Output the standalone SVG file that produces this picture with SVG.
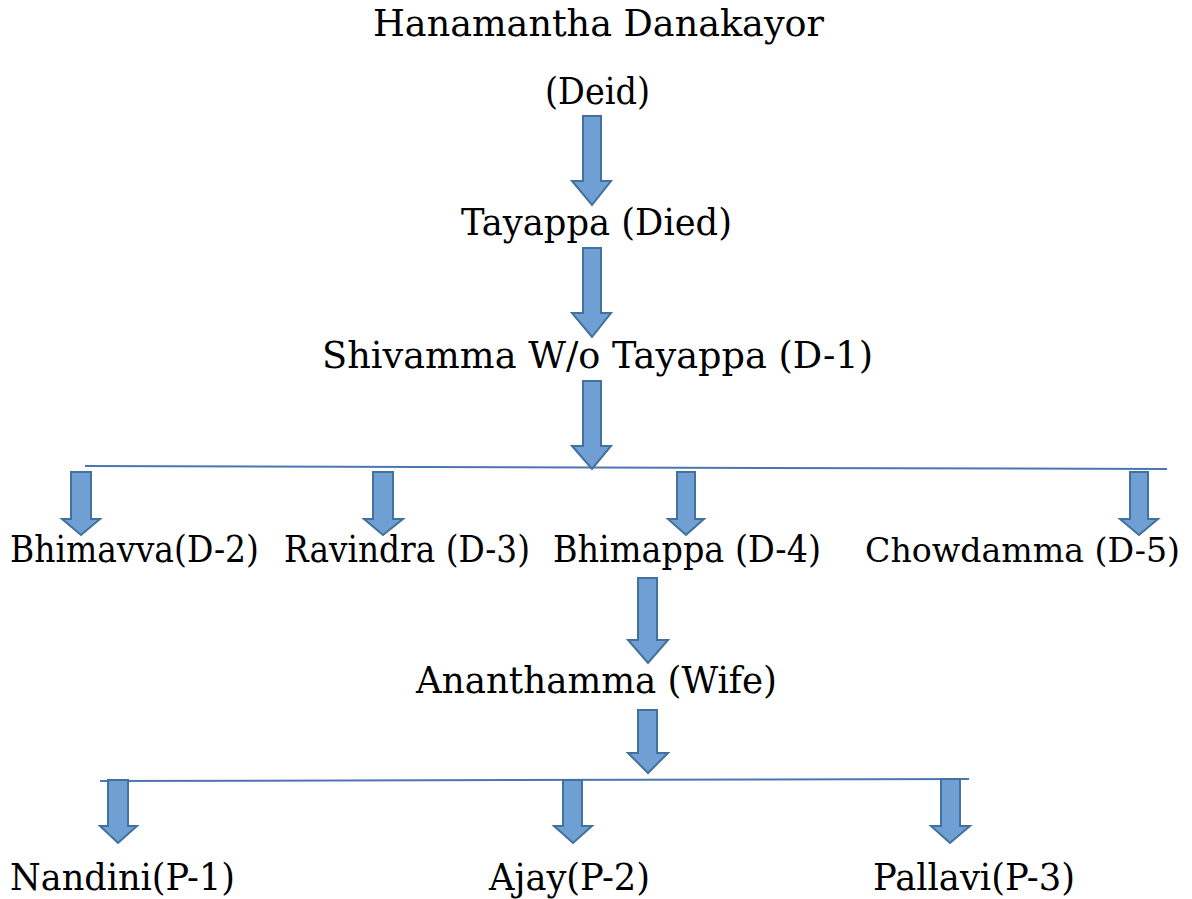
<svg xmlns="http://www.w3.org/2000/svg" width="1192" height="899" viewBox="0 0 1192 899">
<style>
text{font-family:"DejaVu Serif","Liberation Serif",serif;font-size:37px;fill:#000}
.arr{fill:#6f9fd3;stroke:#41719c;stroke-width:2;stroke-linejoin:miter}
.ln{stroke:#4a76b2;stroke-width:2;fill:none}
</style>
<rect width="1192" height="899" fill="#fff"/>
<g id="connectors">
<line class="ln" x1="85" y1="466" x2="1167" y2="469"/>
<line class="ln" x1="100" y1="781" x2="969" y2="779"/>
<polygon class="arr" points="583,116 601,116 601,181 611,181 592,205 572,181 583,181"/>
<polygon class="arr" points="583,248 601,248 601,313 611,313 592,337 572,313 583,313"/>
<polygon class="arr" points="583,381 601,381 601,446 611,446 592,469 572,446 583,446"/>
<polygon class="arr" points="71,472 91,472 91,519 100,519 81,535 62,519 71,519"/>
<polygon class="arr" points="373,472 393,472 393,519 403,519 383,535 364,519 373,519"/>
<polygon class="arr" points="677,472 695,472 695,519 704,519 686,535 668,519 677,519"/>
<polygon class="arr" points="1130,472 1148,472 1148,519 1158,519 1139,535 1120,519 1130,519"/>
<polygon class="arr" points="638,578 657,578 657,640 668,640 648,663 628,640 638,640"/>
<polygon class="arr" points="638,710 657,710 657,753 668,753 648,773 628,753 638,753"/>
<polygon class="arr" points="108,780 128,780 128,826 137,826 118,843 100,826 108,826"/>
<polygon class="arr" points="563,780 582,780 582,826 592,826 573,843 554,826 563,826"/>
<polygon class="arr" points="941,779 960,779 960,826 970,826 950,843 931,826 941,826"/>
</g>
<g id="n1"><text x="373" y="36" textLength="451" lengthAdjust="spacingAndGlyphs">Hanamantha Danakayor</text><text x="545" y="104" textLength="105" lengthAdjust="spacingAndGlyphs">(Deid)</text></g>
<g id="n2"><text x="461" y="235" textLength="271" lengthAdjust="spacingAndGlyphs">Tayappa (Died)</text></g>
<g id="n3"><text x="322" y="368" textLength="551" lengthAdjust="spacingAndGlyphs">Shivamma W/o Tayappa (D-1)</text></g>
<g id="n4"><text x="10" y="562" textLength="249" lengthAdjust="spacingAndGlyphs">Bhimavva(D-2)</text></g>
<g id="n5"><text x="284" y="562" textLength="246" lengthAdjust="spacingAndGlyphs">Ravindra (D-3)</text></g>
<g id="n6"><text x="553" y="562" textLength="268" lengthAdjust="spacingAndGlyphs">Bhimappa (D-4)</text></g>
<g id="n7"><text x="865" y="562" style="font-size:34px" textLength="315" lengthAdjust="spacingAndGlyphs">Chowdamma (D-5)</text></g>
<g id="n8"><text x="416" y="693" textLength="361" lengthAdjust="spacingAndGlyphs">Ananthamma (Wife)</text></g>
<g id="n9"><text x="10" y="890" textLength="225" lengthAdjust="spacingAndGlyphs">Nandini(P-1)</text></g>
<g id="n10"><text x="489" y="890" textLength="161" lengthAdjust="spacingAndGlyphs">Ajay(P-2)</text></g>
<g id="n11"><text x="873" y="890" textLength="202" lengthAdjust="spacingAndGlyphs">Pallavi(P-3)</text></g>
</svg>
